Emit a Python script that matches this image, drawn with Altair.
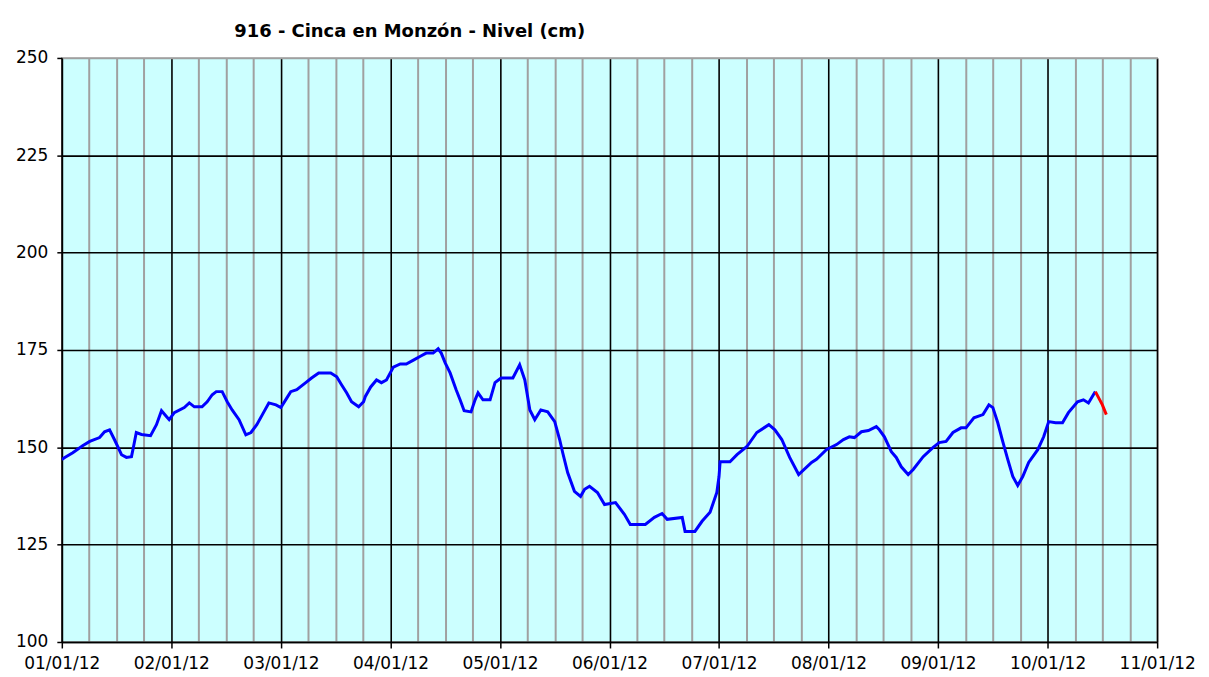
import json
import altair as alt
import pandas as pd

# Month position (0 = 01/01/12, 1 = 02/01/12, ...) and level in cm
obs_pos = [0.0, 0.027, 0.10, 0.19, 0.255, 0.345, 0.39, 0.436, 0.48, 0.545, 0.59, 0.636, 0.655, 0.68,
           0.727, 0.81, 0.864, 0.91, 0.955, 0.98, 1.027, 1.118, 1.164, 1.21, 1.28, 1.327, 1.373, 1.41,
           1.464, 1.51, 1.555, 1.618, 1.68, 1.727, 1.78, 1.845, 1.89, 1.955, 2.0, 2.055, 2.09, 2.145,
           2.227, 2.28, 2.345, 2.455, 2.51, 2.555, 2.6, 2.645, 2.71, 2.755, 2.77, 2.82, 2.873, 2.918,
           2.964, 3.027, 3.09, 3.145, 3.21, 3.282, 3.327, 3.39, 3.436, 3.464, 3.5, 3.545, 3.6, 3.636,
           3.673, 3.736, 3.773, 3.8, 3.845, 3.91, 3.955, 4.01, 4.118, 4.18, 4.227, 4.273, 4.318, 4.373,
           4.436, 4.5, 4.545, 4.573, 4.618, 4.68, 4.736, 4.773, 4.818, 4.89, 4.955, 5.055, 5.136, 5.19,
           5.327, 5.41, 5.48, 5.527, 5.664, 5.69, 5.78, 5.845, 5.918, 5.98, 6.0, 6.01, 6.1, 6.164,
           6.255, 6.345, 6.455, 6.51, 6.573, 6.645, 6.727, 6.845, 6.89, 6.98, 7.073, 7.136, 7.19, 7.236,
           7.3, 7.364, 7.436, 7.464, 7.51, 7.573, 7.618, 7.664, 7.727, 7.773, 7.864, 7.955, 8.01, 8.073,
           8.136, 8.21, 8.255, 8.327, 8.41, 8.464, 8.5, 8.545, 8.59, 8.636, 8.682, 8.727, 8.773, 8.827,
           8.91, 8.964, 9.01, 9.073, 9.136, 9.19, 9.273, 9.327, 9.373, 9.418, 9.436]
obs_val = [146.9, 147.4, 148.6, 150.4, 151.5, 152.5, 154.0, 154.5, 152.0, 148.1, 147.4, 147.6, 150.2, 153.8,
           153.3, 153.0, 155.8, 159.4, 157.9, 157.1, 158.9, 160.2, 161.4, 160.4, 160.4, 161.7, 163.5, 164.3,
           164.3, 161.7, 159.6, 157.1, 153.2, 153.8, 155.8, 159.1, 161.4, 160.9, 160.2, 162.7, 164.3, 164.8,
           166.6, 167.8, 169.1, 169.1, 168.1, 166.0, 164.0, 161.7, 160.4, 161.7, 163.0, 165.5, 167.3, 166.6,
           167.3, 170.6, 171.4, 171.4, 172.4, 173.5, 174.2, 174.2, 175.3, 174.2, 171.7, 169.1, 164.8, 162.2,
           159.4, 159.1, 162.2, 164.0, 162.2, 162.2, 166.6, 167.8, 167.8, 171.2, 167.3, 159.6, 157.1, 159.6,
           159.1, 156.6, 152.0, 148.6, 143.5, 138.7, 137.4, 139.2, 140.0, 138.4, 135.3, 135.8, 132.8, 130.2,
           130.2, 132.0, 133.0, 131.5, 132.0, 128.4, 128.4, 131.0, 133.3, 138.4, 142.5, 146.3, 146.3, 148.1,
           150.2, 153.8, 155.8, 154.5, 152.0, 147.4, 143.0, 146.1, 146.9, 149.4, 150.7, 152.0, 152.7, 152.5,
           154.0, 154.3, 155.3, 154.5, 152.7, 148.9, 147.4, 145.0, 143.0, 144.3, 147.6, 150.0, 151.2, 151.5,
           153.8, 155.0, 155.0, 157.6, 158.4, 160.9, 160.2, 156.3, 151.5, 146.9, 142.5, 140.2, 142.5, 146.1,
           149.4, 152.7, 156.6, 156.3, 156.3, 158.9, 161.7, 162.2, 161.4, 163.5, 164.3]
# Provisional (red) segment
prov_pos = [9.436, 9.47, 9.5, 9.536]
prov_val = [164.3, 162.5, 160.9, 158.4]

month_labels = ["01/01/12", "02/01/12", "03/01/12", "04/01/12", "05/01/12", "06/01/12",
                "07/01/12", "08/01/12", "09/01/12", "10/01/12", "11/01/12"]
x_ticks = [i / 4 for i in range(41)]
y_ticks = [100, 125, 150, 175, 200, 225, 250]
title_text = "916 - Cinca en Monzón - Nivel (cm)"

df = pd.concat([
    pd.DataFrame({"pos": obs_pos, "nivel": obs_val, "serie": "obs"}),
    pd.DataFrame({"pos": prov_pos, "nivel": prov_val, "serie": "prov"}),
], ignore_index=True)

label_expr = f"datum.value % 1 === 0 ? {json.dumps(month_labels)}[round(datum.value)] : ''"

x_axis = alt.Axis(
    values=x_ticks,
    labelExpr=label_expr,
    grid=True,
    gridColor={"condition": {"test": "datum.value % 1 === 0", "value": "#000000"}, "value": "#a0a0a0"},
    gridWidth={"condition": {"test": "datum.value % 1 === 0", "value": 1.6}, "value": 2},
    tickSize={"condition": {"test": "datum.value % 1 === 0", "value": 6}, "value": 0},
    tickColor="#000000",
    tickWidth=1.5,
    domainColor="#000000",
    domainWidth=1.6,
    labelFont="DejaVu Sans",
    labelFontSize=17,
    labelColor="#000000",
    labelPadding=8,
    labelOverlap=False,
    labelFlush=False,
    title=None,
)
y_axis = alt.Axis(
    values=y_ticks,
    grid=True,
    gridColor={"condition": {"test": "datum.value === 250", "value": "#a0a0a0"}, "value": "#000000"},
    gridWidth=1.6,
    tickSize=5,
    tickColor="#000000",
    tickWidth=1.5,
    domainColor="#000000",
    domainWidth=1.6,
    labelFont="DejaVu Sans",
    labelFontSize=17,
    labelColor="#000000",
    labelPadding=9,
    labelFlush=False,
    title=None,
)

chart = alt.Chart(df).mark_line(strokeWidth=3, clip=True).encode(
    x=alt.X("pos:Q", scale=alt.Scale(domain=[0, 10], nice=False, zero=False), axis=x_axis),
    y=alt.Y("nivel:Q", scale=alt.Scale(domain=[100, 250], nice=False, zero=False), axis=y_axis),
    color=alt.Color("serie:N", scale=alt.Scale(domain=["obs", "prov"], range=["#0000ff", "#ff0000"]),
                    legend=None),
).properties(
    width=1099,
    height=586,
    autosize=alt.AutoSizeParams(type="none"),
    padding={"left": 54, "top": 49, "right": 44, "bottom": 30},
    background="#ffffff",
    title=alt.TitleParams(
        text=title_text,
        anchor="start",
        frame="group",
        dx=173,
        dy=24,
        offset=18,
        font="DejaVu Sans",
        fontSize=18,
        fontWeight="bold",
        color="#000000",
        baseline="alphabetic",
    ),
).configure_view(
    fill="#ccffff",
    stroke="#a0a0a0",
    strokeWidth=1.6,
)

chart.save("out.html", embed_options={"renderer": "svg", "actions": False})
